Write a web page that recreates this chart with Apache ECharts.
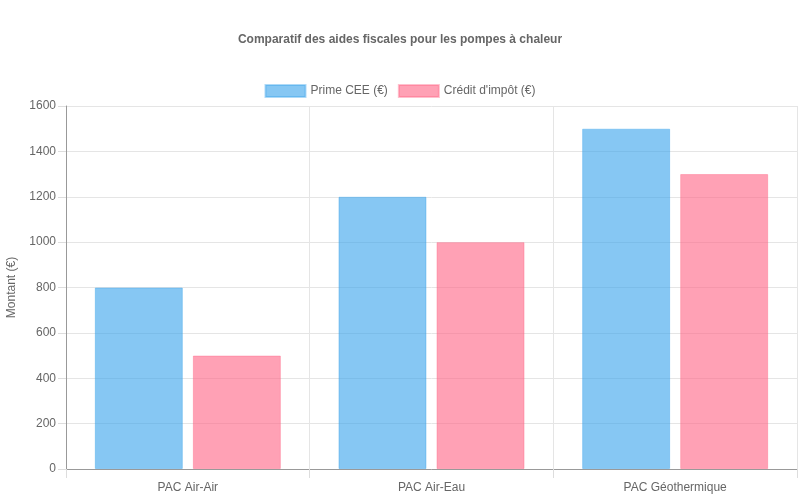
<!DOCTYPE html>
<html><head><meta charset="utf-8">
<script src="https://cdn.jsdelivr.net/npm/echarts@6/dist/echarts.min.js"></script>
<style>html,body{margin:0;padding:0;background:#fff}#c{width:800px;height:500px}</style>
</head><body><div id="c"></div>
<script>
const categories = ["PAC Air-Air", "PAC Air-Eau", "PAC Géothermique"];
const primeCEE = [800, 1200, 1500];
const creditImpot = [500, 1000, 1300];
const seriesNames = ["Prime CEE (€)", "Crédit d'impôt (€)"];

const font = "'Liberation Sans', Arial, sans-serif";
const chart = echarts.init(document.getElementById('c'));
chart.setOption({
  animation: false,
  title: {
    text: "Comparatif des aides fiscales pour les pompes à chaleur",
    left: 'center', top: 29,
    textStyle: { fontFamily: font, fontSize: 12, fontWeight: 'bold', color: '#666' }
  },
  legend: {
    top: 79, left: 'center',
    itemWidth: 40, itemHeight: 12, itemGap: 10,
    icon: 'rect',
    textStyle: { fontFamily: font, fontSize: 12, color: '#666' },
    data: seriesNames
  },
  grid: { left: 66, right: 3, top: 106, bottom: 31, containLabel: false, outerBoundsMode: 'none' },
  xAxis: {
    type: 'category', data: categories, boundaryGap: true,
    axisLine: { show: true, lineStyle: { color: '#999' } },
    axisTick: { show: true, length: 9, lineStyle: { color: '#ddd' } },
    axisLabel: { fontFamily: font, fontSize: 12, color: '#666', margin: 13 },
    splitLine: { show: true, lineStyle: { color: '#e5e5e5' } }
  },
  yAxis: {
    type: 'value', min: 0, max: 1600, interval: 200,
    name: 'Montant (€)', nameLocation: 'middle', nameGap: 48,
    nameTextStyle: { fontFamily: font, fontSize: 12, color: '#666' },
    axisLine: { show: true, lineStyle: { color: '#999' } },
    axisTick: { show: true, length: 8, lineStyle: { color: '#ddd' } },
    axisLabel: { fontFamily: font, fontSize: 12, color: '#666', margin: 10, formatter: v => String(v) },
    splitLine: { show: true, lineStyle: { color: '#e5e5e5' } }
  },
  series: [
    {
      name: seriesNames[0], type: 'bar', data: primeCEE,
      barWidth: 88, barGap: '11.4%',
      itemStyle: { color: 'rgba(54,162,235,0.6)', borderColor: 'rgba(54,162,235,0.4)', borderWidth: 1 }
    },
    {
      name: seriesNames[1], type: 'bar', data: creditImpot,
      barWidth: 88,
      itemStyle: { color: 'rgba(255,99,132,0.6)', borderColor: 'rgba(255,99,132,0.4)', borderWidth: 1 }
    }
  ]
});
</script></body></html>
